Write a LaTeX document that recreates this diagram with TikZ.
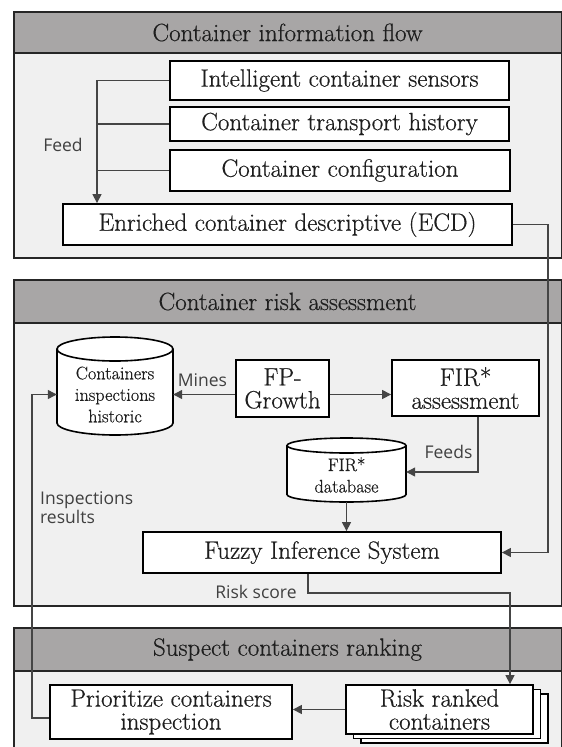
\documentclass[tikz,border=0pt]{standalone}
\usepackage{fontspec}
\setmainfont{Latin Modern Roman}[FakeBold=0.5]
\newfontfamily\labfont{Open Sans}
\usetikzlibrary{arrows.meta,calc}
\definecolor{hdr}{HTML}{A8A6A6}
\definecolor{pbg}{HTML}{F0F0F0}
\definecolor{ln}{HTML}{454545}
\definecolor{tx}{HTML}{1E1E1E}
\begin{document}
\begin{tikzpicture}[x=1pt,y=-1pt,
  panel/.style={draw=black!85, line width=1.6pt, fill=pbg},
  header/.style={draw=black!85, line width=1.6pt, fill=hdr},
  htext/.style={font=\fontsize{25}{22}\selectfont, text=tx, inner sep=0pt},
  box/.style={draw=black, line width=1.8pt, fill=white, inner sep=0pt, align=center,
              font=\fontsize{25}{23}\selectfont, text=tx},
  dbtext/.style={inner sep=0pt, align=center, font=\fontsize{18.2}{21.5}\selectfont, text=tx},
  dbshape/.style={draw=black, line width=1.6pt, fill=white},
  lab/.style={font={\labfont\fontsize{17.5}{15.5}\selectfont}, text=black!75, align=left, inner sep=0pt},
  conn/.style={draw=ln, line width=1.2pt},
  arr/.style={conn, -{Triangle[length=9pt,width=9pt]}},
  stack/.style={box,
     preaction={draw=black, line width=1.8pt, fill=white, transform canvas={xshift=15pt, yshift=-9pt}},
     preaction={draw=black, line width=1.8pt, fill=white, transform canvas={xshift=7.5pt, yshift=-4.5pt}}},
]
\useasboundingbox (0,0) rectangle (562,747);
\clip (0,0) rectangle (562,747);

% panels
\path[panel] (14,12) rectangle (561.5,258);
\path[header] (14,12) rectangle (561.5,53);
\node[htext] (h1) at (287.5,32.5) {Container information flow};

\path[panel] (14,280) rectangle (561.5,606);
\path[header] (14,280) rectangle (561.5,323);
\node[htext] (h2) at (287.5,301.5) {Container risk assessment};

\path[panel] (14,628) rectangle (561.5,770);
\path[header] (14,628) rectangle (561.5,671);
\node[htext] (h3) at (287.5,649.5) {Suspect containers ranking};

% panel 1 boxes
\node[box, minimum width=339pt, minimum height=39pt] (sens) at (339.5,80.5) {Intelligent container sensors};
\node[box, minimum width=339pt, minimum height=34pt] (hist) at (339.5,124) {Container transport history};
\node[box, minimum width=340pt, minimum height=41pt] (conf) at (340,170.5) {Container configuration};
\node[box, minimum width=449pt, minimum height=41pt] (ecd) at (287.5,224.5) {Enriched container descriptive (ECD)};

% panel 2
\path[dbshape] (57,349) -- (57,423) arc[start angle=180,end angle=360,x radius=58pt,y radius=12pt]
   -- (173,349) arc[start angle=0,end angle=180,x radius=58pt,y radius=12pt] -- cycle;
\draw[line width=1.6pt] (57,349) arc[start angle=180,end angle=360,x radius=58pt,y radius=12pt];
\node[dbtext, minimum width=116pt, minimum height=98pt] (cyl1) at (115,394.5) {Containers\\inspections\\historic};

\node[box, minimum width=93pt, minimum height=57pt] (fp) at (282.5,388.5) {FP-\\Growth};
\node[box, minimum width=147pt, minimum height=56pt] (fir) at (465.5,388) {FIR*\\assessment};

\path[dbshape] (287,445.5) -- (287,494.5) arc[start angle=180,end angle=360,x radius=59.5pt,y radius=7.5pt]
   -- (406,445.5) arc[start angle=0,end angle=180,x radius=59.5pt,y radius=7.5pt] -- cycle;
\draw[line width=1.6pt] (287,445.5) arc[start angle=180,end angle=360,x radius=59.5pt,y radius=7.5pt];
\node[dbtext, minimum width=119pt, minimum height=54pt] (firdb) at (346.5,475) {FIR*\\database};

\node[box, minimum width=358pt, minimum height=41pt] (fuzzy) at (322,552.5) {Fuzzy Inference System};

% panel 3
\node[stack, minimum width=187pt, minimum height=49pt] (rr) at (439.5,709.5) {Risk ranked\\containers};
\node[box, minimum width=242pt, minimum height=54pt] (pri) at (171,712) {Prioritize containers\\inspection};

% labels
\node[lab] (lfeed) at (63,145) {Feed};
\node[lab] (lmines) at (202.5,380) {Mines};
\node[lab] (lfeeds) at (448.5,452) {Feeds};
\node[lab, anchor=west] (linsp) at (40,507.5) {Inspections\\results};
\node[lab] (lrisk) at (256,592) {Risk score};

% connectors
\coordinate (fd) at (97,80.5);
\draw[arr] (sens.west) -- (sens.west -| fd) -- (fd |- ecd.north);
\draw[conn] (hist.west) -- (hist.west -| fd);
\draw[conn] (conf.west) -- (conf.west -| fd);

\coordinate (eb) at (548,227);
\draw[arr] (ecd.east) -- (ecd.east -| eb) |- (fuzzy.east);

\draw[arr] (fp.west |- cyl1.east) -- (cyl1.east);
\draw[arr] (fp.east |- cyl1.east) -- (fir.west |- cyl1.east);
\draw[arr] ([xshift=12.5pt]fir.south) |- ([yshift=3pt]firdb.east);
\draw[arr] (firdb.south) -- (firdb.south |- fuzzy.north);

\coordinate (rb) at (510,593);
\draw[arr] ([xshift=-14pt]fuzzy.south) |- (rb) -- (rb |- rr.north);
\draw[arr] (rr.west) -- (rr.west -| pri.east);

\coordinate (ib) at (32,394.5);
\draw[arr] ([yshift=-6pt]pri.west) -| (ib) -- (cyl1.west);
\end{tikzpicture}
\end{document}
